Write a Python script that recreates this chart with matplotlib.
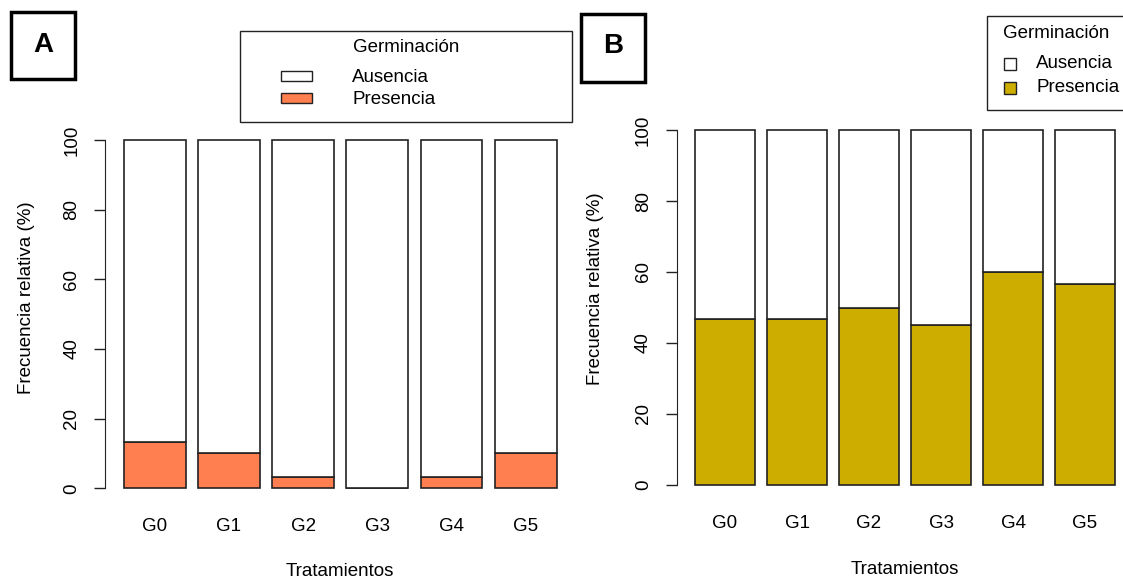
import matplotlib.pyplot as plt
from matplotlib.patches import Rectangle

plt.rcParams['font.family'] = ['Liberation Sans', 'DejaVu Sans']

tratamientos = ["G0", "G1", "G2", "G3", "G4", "G5"]
presencia_a = [13.33, 10.0, 3.33, 0.0, 3.33, 10.0]
presencia_b = [46.67, 46.67, 50.0, 45.0, 60.0, 56.67]
leyenda = ["Ausencia", "Presencia"]

col_a = "#FF7F50"
col_b = "#CDAD00"
W, H = 1123, 580
FS = 13.5


def fx(px):
    return px / W


def fy(py):
    return 1 - py / H


def box(fig, x0, y0, x1, y1, lw=1.0, fc="none", ec="#222222"):
    r = Rectangle((fx(x0), fy(y1)), fx(x1) - fx(x0), fy(y0) - fy(y1),
                  transform=fig.transFigure, fc=fc, ec=ec, lw=lw)
    fig.add_artist(r)


def panel(fig, rect, pres, color, tick_pad):
    ax = fig.add_axes(rect)
    xs = [0.7 + 1.2 * i for i in range(len(pres))]
    aus = [100 - p for p in pres]
    ax.bar(xs, pres, width=1.0, color=color, edgecolor="#222222", lw=1.2)
    ax.bar(xs, aus, bottom=pres, width=1.0, color="white", edgecolor="#222222", lw=1.2)
    ax.set_xlim(-0.1, 7.3)
    ax.set_ylim(-4, 104)
    for s in ["top", "right", "bottom"]:
        ax.spines[s].set_visible(False)
    ax.spines["left"].set_bounds(0, 100)
    ax.spines["left"].set_color("#222222")
    ax.set_xticks(xs)
    ax.set_xticklabels(tratamientos, fontsize=FS)
    ax.tick_params(axis="x", length=0, pad=tick_pad)
    ax.set_yticks([0, 20, 40, 60, 80, 100])
    ax.tick_params(axis="y", length=8, width=1, pad=10, labelsize=FS, labelrotation=90,
                   color="#222222")
    for t in ax.get_yticklabels():
        t.set_va("center")
    return ax


fig = plt.figure(figsize=(W / 100, H / 100), dpi=100)

panel(fig, [fx(105.4), fy(502.2), 457.3 / W, 376 / H], presencia_a, col_a, 11.5)
panel(fig, [fx(677), fy(499.2), 444 / W, 383.4 / H], presencia_b, col_b, 11.5)

# axis titles
fig.text(fx(340), fy(572), "Tratamientos", ha="center", va="center", fontsize=FS)
fig.text(fx(905), fy(570), "Tratamientos", ha="center", va="center", fontsize=FS)
fig.text(fx(27), fy(298), "Frecuencia relativa (%)", rotation=90, ha="center", va="center", fontsize=FS)
fig.text(fx(595), fy(289), "Frecuencia relativa (%)", rotation=90, ha="center", va="center", fontsize=FS)

# panel letters
box(fig, 11, 12, 75, 79, lw=2.5, ec="black")
fig.text(fx(43), fy(45), "A", ha="center", va="center", fontsize=20, fontweight="bold")
box(fig, 581, 14, 645, 82, lw=2.5, ec="black")
fig.text(fx(613), fy(46), "B", ha="center", va="center", fontsize=20, fontweight="bold")

# legend A
box(fig, 240, 31, 572, 122)
fig.text(fx(406), fy(47), "Germinación", ha="center", va="center", fontsize=FS)
box(fig, 281, 71, 312, 81, fc="white")
box(fig, 281, 93, 312, 103, fc=col_a)
fig.text(fx(352), fy(77), leyenda[0], ha="left", va="center", fontsize=FS)
fig.text(fx(352), fy(100), leyenda[1], ha="left", va="center", fontsize=FS)

# legend B
box(fig, 987, 16, 1130, 110)
fig.text(fx(1003), fy(34), "Germinación", ha="left", va="center", fontsize=FS)
box(fig, 1004, 58, 1016, 70, fc="white")
box(fig, 1004, 82, 1016, 94, fc=col_b)
fig.text(fx(1036), fy(64), leyenda[0], ha="left", va="center", fontsize=FS)
fig.text(fx(1036), fy(88), leyenda[1], ha="left", va="center", fontsize=FS)

fig.savefig("out.png", dpi=100)
